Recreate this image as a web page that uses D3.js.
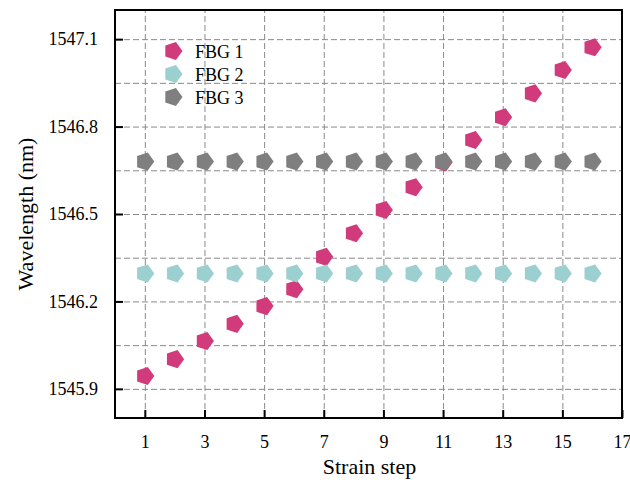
<!DOCTYPE html>
<html>
<head>
<meta charset="utf-8">
<script src="https://cdn.jsdelivr.net/npm/d3@7"></script>
<style>
  body { margin: 0; background: #fff; }
  svg { font-family: "Liberation Serif", "Times New Roman", serif; }
  .grid line { stroke: #8a8a8a; stroke-width: 1; stroke-dasharray: 6,3; }
  .grid path { display: none; }
  .axis path { display: none; }
  .axis line { stroke: #000; stroke-width: 2; }
  .axis text { font-family: "Liberation Serif", "Times New Roman", serif; font-size: 18px; fill: #000; }
</style>
</head>
<body>
<svg width="630" height="482"></svg>
<script>
var steps = d3.range(1, 17);
var fbg1 = [1545.944, 1546.002, 1546.064, 1546.123, 1546.184, 1546.242, 1546.353, 1546.434,
            1546.514, 1546.592, 1546.677, 1546.754, 1546.832, 1546.914, 1546.994, 1547.072];
var fbg2 = [1546.296, 1546.296, 1546.296, 1546.296, 1546.296, 1546.296, 1546.296, 1546.296,
            1546.296, 1546.296, 1546.296, 1546.296, 1546.296, 1546.296, 1546.296, 1546.296];
var fbg3 = [1546.680, 1546.680, 1546.680, 1546.680, 1546.680, 1546.680, 1546.680, 1546.680,
            1546.680, 1546.680, 1546.680, 1546.680, 1546.680, 1546.680, 1546.680, 1546.680];
var seriesNames = ["FBG 1", "FBG 2", "FBG 3"];
var seriesColors = ["#d13b7b", "#9ccfcf", "#7f7f7f"];
var xTicks = [1, 3, 5, 7, 9, 11, 13, 15, 17];
var yTicks = [1545.9, 1546.2, 1546.5, 1546.8, 1547.1];
var yGrid = [1545.9, 1546.05, 1546.2, 1546.35, 1546.5, 1546.65, 1546.8, 1546.95, 1547.1];

var svg = d3.select("svg");
var m = {left: 115, right: 8, top: 10, bottom: 64};
var width = 630 - m.left - m.right,
    height = 482 - m.top - m.bottom;

var x = d3.scaleLinear().domain([0, 17]).range([0, width]);
var y = d3.scaleLinear().domain([1545.8, 1547.2]).range([height, 0]);

var g = svg.append("g").attr("transform", "translate(" + m.left + "," + m.top + ")");

// dashed grid
g.append("g").attr("class", "grid")
    .call(d3.axisLeft(y).tickValues(yGrid).tickSize(-width).tickFormat(""));
g.append("g").attr("class", "grid")
    .attr("transform", "translate(0," + height + ")")
    .call(d3.axisBottom(x).tickValues(xTicks.filter(function(d) { return d < 17; })).tickSize(-height).tickFormat(""));

// axes, ticks pointing inward
g.append("g").attr("class", "axis")
    .attr("transform", "translate(0," + height + ")")
    .call(d3.axisBottom(x).tickValues(xTicks).tickSize(-8).tickPadding(17).tickFormat(d3.format("d")));
g.append("g").attr("class", "axis")
    .call(d3.axisLeft(y).tickValues(yTicks).tickSize(-8).tickPadding(17).tickFormat(d3.format(".1f")));
g.selectAll(".axis").attr("font-family", null).attr("font-size", null);

function pentagon(r) {
  var pts = d3.range(5).map(function(i) {
    var a = i * 2 * Math.PI / 5;
    return [r * Math.cos(a), r * Math.sin(a)];
  });
  return "M" + pts.join("L") + "Z";
}
var marker = pentagon(9.5);

// FBG 1 first, the flat ones drawn over it
[fbg1, fbg2, fbg3].forEach(function(vals, k) {
  g.append("g").selectAll("path")
    .data(vals)
    .join("path")
    .attr("d", marker)
    .attr("fill", seriesColors[k])
    .attr("transform", function(d, i) { return "translate(" + x(steps[i]) + "," + y(d) + ")"; });
});

// frame
g.append("rect")
    .attr("width", width).attr("height", height)
    .attr("fill", "none").attr("stroke", "#000").attr("stroke-width", 2);

// legend
var lg = g.append("g").attr("transform", "translate(58,41)");
seriesNames.forEach(function(name, i) {
  var row = lg.append("g").attr("transform", "translate(0," + (i * 23) + ")");
  row.append("path").attr("d", marker).attr("fill", seriesColors[i]);
  row.append("text").attr("x", 22).attr("y", 6.5)
    .style("font-size", "18px").text(name);
});

// axis titles
svg.append("text")
    .attr("x", m.left + width / 2 + 1).attr("y", 474)
    .attr("text-anchor", "middle").style("font-size", "22px")
    .text("Strain step");
svg.append("text")
    .attr("transform", "translate(33," + (m.top + height / 2) + ") rotate(-90)")
    .attr("text-anchor", "middle").style("font-size", "22px")
    .text("Wavelength (nm)");
</script>
</body>
</html>
